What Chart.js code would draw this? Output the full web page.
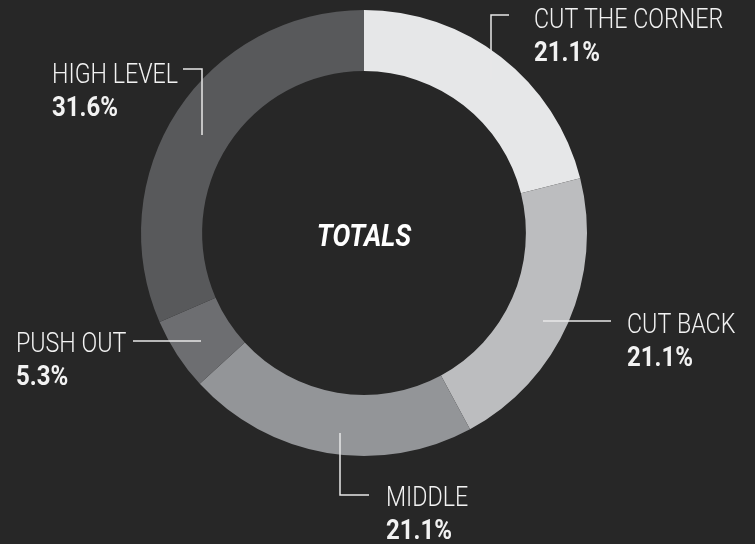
<!DOCTYPE html>
<html lang="en">
<head>
<meta charset="UTF-8">
<title>Totals</title>
<style type="text/css">
    body{ margin:0; background:#272727; }
    .chartBox{ width:755px; height:544px; }
</style>
</head>
<body>
<div class="chartBox">
    <canvas id="myChart" width="755" height="544"></canvas>
</div>
<script src="https://cdn.jsdelivr.net/npm/chart.js"></script>
<script>
// data
const labels = ['CUT THE CORNER', 'CUT BACK', 'MIDDLE', 'PUSH OUT', 'HIGH LEVEL'];
const values = [21.1, 21.1, 21.1, 5.3, 31.6];
const colors = ['#e6e7e8', '#bcbdbf', '#939598', '#6d6e71', '#58595b'];

// where each label sits and how its leader line runs (x,y pairs)
const callouts = [
    {x: 534, y: 28, line: [[509, 15], [491, 15], [491, 79]]},
    {x: 627, y: 333, line: [[611, 321], [543, 321]]},
    {x: 386, y: 506, line: [[369, 495], [340, 495], [340, 433]]},
    {x: 16, y: 352, line: [[133, 341], [201, 341]]},
    {x: 52, y: 83, line: [[183, 69], [202, 69], [202, 135]]}
];

const bgPlugin = {
    id: 'bg',
    beforeDraw(chart){
        const ctx = chart.ctx;
        ctx.save();
        ctx.fillStyle = '#272727';
        ctx.fillRect(0, 0, chart.width, chart.height);
        ctx.restore();
    }
};

const labelPlugin = {
    id: 'callouts',
    afterDraw(chart){
        const ctx = chart.ctx;
        const meta = chart.getDatasetMeta(0);
        ctx.save();
        ctx.strokeStyle = '#e8e8e8';
        ctx.lineWidth = 1.5;
        ctx.fillStyle = '#f2f2f2';
        ctx.textBaseline = 'alphabetic';
        callouts.forEach((c, i) => {
            ctx.beginPath();
            c.line.forEach((p, j) => j ? ctx.lineTo(p[0], p[1]) : ctx.moveTo(p[0], p[1]));
            ctx.stroke();

            ctx.save();
            ctx.translate(c.x, c.y);
            ctx.save();
            ctx.scale(0.83, 1);
            ctx.font = '300 28px Roboto';
            ctx.fillText(chart.data.labels[i], 0, 0);
            ctx.restore();
            ctx.scale(0.89, 1);
            ctx.font = 'bold 27px Roboto';
            ctx.fillText(chart.data.datasets[0].data[i].toFixed(1) + '%', 0, 33);
            ctx.restore();
        });
        // centre title
        const arc = meta.data[0];
        ctx.save();
        ctx.translate(arc.x, arc.y + 13);
        ctx.scale(0.86, 1);
        ctx.font = 'italic bold 31px Roboto';
        ctx.textAlign = 'center';
        ctx.fillStyle = '#ffffff';
        ctx.fillText('TOTALS', 0, 0);
        ctx.restore();
        ctx.restore();
    }
};

const myChart = new Chart(document.getElementById('myChart'), {
    type: 'doughnut',
    data: {
        labels: labels,
        datasets: [{
            data: values,
            backgroundColor: colors,
            borderWidth: 0
        }]
    },
    options: {
        responsive: false,
        animation: false,
        cutout: '72.6%',
        layout: { padding: { left: 141, right: 168, top: 10, bottom: 88 } },
        plugins: {
            legend: { display: false },
            tooltip: { enabled: false }
        }
    },
    plugins: [bgPlugin, labelPlugin]
});
</script>
</body>
</html>
